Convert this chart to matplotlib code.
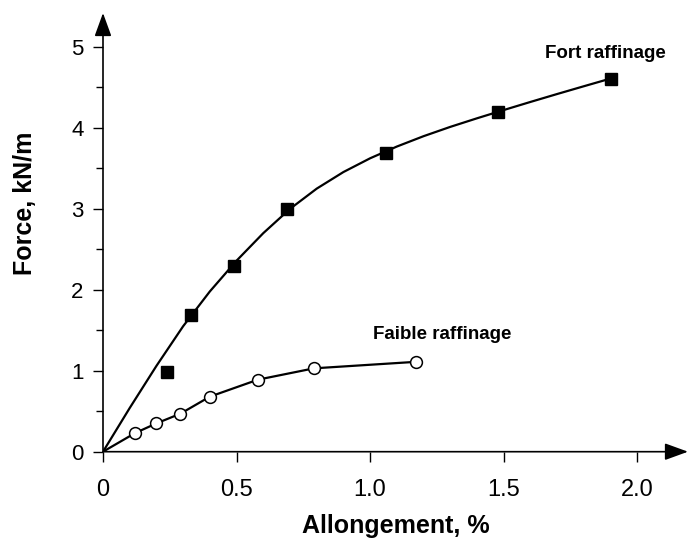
import numpy as np
import matplotlib
matplotlib.use("Agg")
import matplotlib.pyplot as plt
from matplotlib.ticker import MultipleLocator

plt.rcParams['font.family'] = ['Liberation Sans', 'DejaVu Sans']

# ---- data ----
fort_x = [0.24, 0.33, 0.49, 0.69, 1.06, 1.48, 1.90]
fort_y = [0.99, 1.69, 2.30, 3.00, 3.69, 4.20, 4.61]

# fitted curve for "Fort raffinage"
fort_curve_x = [0, 0.1, 0.2, 0.3, 0.4, 0.5, 0.6, 0.7, 0.8, 0.9, 1.0,
                1.1, 1.2, 1.3, 1.4, 1.5, 1.6, 1.7, 1.8, 1.9]
fort_curve_y = [0, 0.54, 1.06, 1.55, 1.98, 2.36, 2.70, 3.00, 3.25, 3.455, 3.625,
                3.77, 3.898, 4.013, 4.119, 4.221, 4.321, 4.419, 4.515, 4.61]

faible_x = [0.12, 0.20, 0.29, 0.40, 0.58, 0.79, 1.17]
faible_y = [0.23, 0.35, 0.47, 0.68, 0.89, 1.03, 1.11]

faible_curve_x = [0] + faible_x
faible_curve_y = [0] + faible_y

x_ticks = [0, 0.5, 1.0, 1.5, 2.0]
x_ticklabels = ["0", "0.5", "1.0", "1.5", "2.0"]
y_ticks = [0, 1, 2, 3, 4, 5]
y_ticklabels = ["0", "1", "2", "3", "4", "5"]

label_fort = "Fort raffinage"
label_faible = "Faible raffinage"
xlabel = "Allongement, %"
ylabel = "Force, kN/m"

# ---- figure ----
W, H = 688, 539
fig = plt.figure(figsize=(W / 100, H / 100), dpi=100)
x0_px, y0_px, top_px = 103, 451.7, 13
ax = fig.add_axes([x0_px / W, (H - y0_px) / H, (W - x0_px) / W, (y0_px - top_px) / H])
ax.set_xlim(0, 2.19)
ax.set_ylim(0, 5.42)

for s in ax.spines.values():
    s.set_visible(False)

# axis lines with arrow heads
arrow_kw = dict(arrowstyle='-|>,head_length=0.55,head_width=0.2', color='k', lw=1.2,
                mutation_scale=26, shrinkA=0, shrinkB=0)
ax.annotate('', xy=(1, 0), xytext=(0, 0), xycoords='axes fraction',
            textcoords='axes fraction', arrowprops=arrow_kw, annotation_clip=False)
ax.annotate('', xy=(0, 1), xytext=(0, 0), xycoords='axes fraction',
            textcoords='axes fraction', arrowprops=arrow_kw, annotation_clip=False)

# curves
ax.plot(fort_curve_x, fort_curve_y, color='k', lw=1.6, solid_capstyle='round',
        solid_joinstyle='round', zorder=2)
ax.plot(faible_curve_x, faible_curve_y, color='k', lw=1.6, solid_capstyle='round',
        solid_joinstyle='round', zorder=2)

# markers
ax.plot(fort_x, fort_y, linestyle='none', marker='s', markersize=8.5,
        markerfacecolor='k', markeredgecolor='k', zorder=3, clip_on=False)
ax.plot(faible_x, faible_y, linestyle='none', marker='o', markersize=8.5,
        markerfacecolor='white', markeredgecolor='k', markeredgewidth=1.1, zorder=3, clip_on=False)

# annotations
ax.text(1.88, 4.92, label_fort, ha='center', va='center', fontsize=13.5, fontweight='bold')
ax.text(1.27, 1.45, label_faible, ha='center', va='center', fontsize=13.5, fontweight='bold')

# ticks
ax.set_xticks(x_ticks)
ax.set_xticklabels(x_ticklabels)
ax.set_yticks(y_ticks)
ax.set_yticklabels(y_ticklabels)
ax.yaxis.set_minor_locator(MultipleLocator(0.5))
ax.tick_params(axis='x', direction='out', length=7, width=1.0, labelsize=17, pad=13)
ax.tick_params(axis='y', which='major', direction='out', length=7, width=1.0, labelsize=16, pad=7)
ax.tick_params(axis='y', which='minor', direction='out', length=5, width=1.0)

# axis labels
ax.set_xlabel(xlabel, fontsize=18, fontweight='bold')
ax.xaxis.set_label_coords(0.5, -0.143)
ax.set_ylabel(ylabel, fontsize=18, fontweight='bold')
ax.yaxis.set_label_coords(-0.112, 0.567)

fig.savefig("out.png", dpi=100)
